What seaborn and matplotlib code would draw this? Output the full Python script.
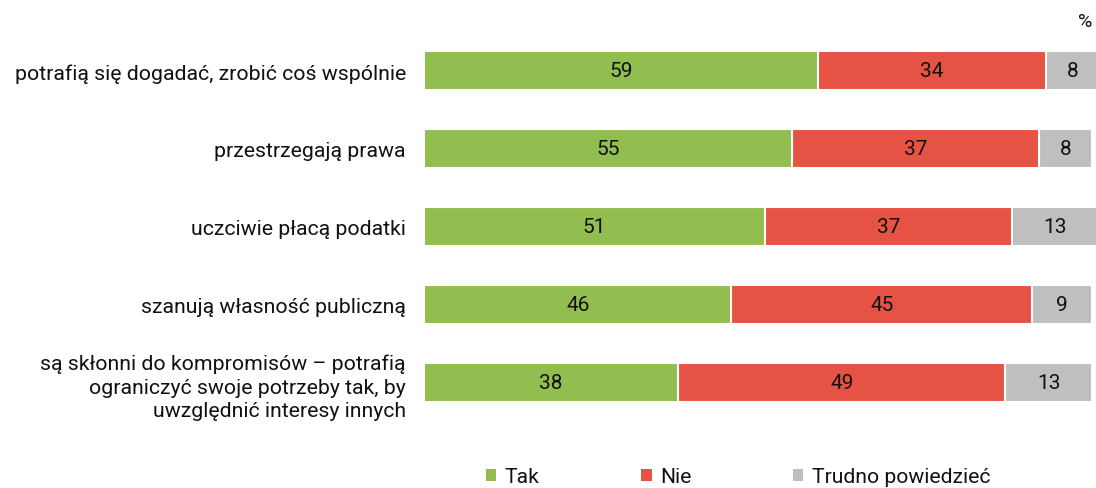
import matplotlib
matplotlib.use("Agg")
import matplotlib.pyplot as plt
from matplotlib.patches import Patch
import numpy as np
import pandas as pd
import seaborn as sns

categories = [
    "potrafią się dogadać, zrobić coś wspólnie",
    "przestrzegają prawa",
    "uczciwie płacą podatki",
    "szanują własność publiczną",
    "są skłonni do kompromisów – potrafią\nograniczyć swoje potrzeby tak, by\nuwzględnić interesy innych",
]
tak = [59, 55, 51, 46, 38]
nie = [34, 37, 37, 45, 49]
trudno = [8, 8, 13, 9, 13]

series_names = ["Tak", "Nie", "Trudno powiedzieć"]
colors = ["#92BE50", "#E65344", "#BFBFBF"]

sns.set_theme(style="white")
plt.rcParams["font.family"] = ["Roboto", "DejaVu Sans"]

df = pd.DataFrame({"kat": categories, "Tak": tak, "Nie": nie, "Trudno": trudno})
df["c1"] = df["Tak"]
df["c2"] = df["Tak"] + df["Nie"]
df["c3"] = df["c2"] + df["Trudno"]

fig = plt.figure(figsize=(10.96, 4.89), dpi=100)
ax = fig.add_axes([424 / 1096, 1 - 422.5 / 489, 675 / 1096, 389.5 / 489])

# stacked bars: draw cumulative totals from the back to the front
for col, color in zip(["c3", "c2", "c1"], colors[::-1]):
    sns.barplot(data=df, x=col, y="kat", color=color, orient="h", width=0.5,
                edgecolor="white", linewidth=1.5, saturation=1, ax=ax)

ax.set_xlim(0, 101)
ax.set_ylim(4.5, -0.5)
ax.set_xlabel("")
ax.set_ylabel("")
ax.set_xticks([])
ax.tick_params(axis="y", length=0, pad=13, labelsize=15.3, labelcolor="#111111")
for lbl in ax.get_yticklabels():
    lbl.set_horizontalalignment("right")
    lbl.set_multialignment("right")
    lbl.set_linespacing(1.3)
sns.despine(ax=ax, left=True, bottom=True)

# value labels centred in each segment
for i in range(len(categories)):
    lefts = [0, tak[i], tak[i] + nie[i]]
    vals = [tak[i], nie[i], trudno[i]]
    for left, v in zip(lefts, vals):
        ax.text(left + v / 2, i, f"{v}", ha="center", va="center",
                fontsize=15, color="#111111", clip_on=False)

fig.text(1085 / 1096, 1 - 22 / 489, "%", ha="center", va="center", fontsize=14,
         color="#111111")

handles = [Patch(facecolor=c, edgecolor="none") for c in colors]
fig.legend(handles, series_names, loc="center", bbox_to_anchor=(738 / 1096, 1 - 478 / 489),
           ncol=3, frameon=False, fontsize=15.2, handlelength=0.5, handleheight=0.5,
           handletextpad=0.4, columnspacing=4.8, borderaxespad=0, borderpad=0,
           labelcolor="#111111")

fig.savefig("out.png", dpi=100)
